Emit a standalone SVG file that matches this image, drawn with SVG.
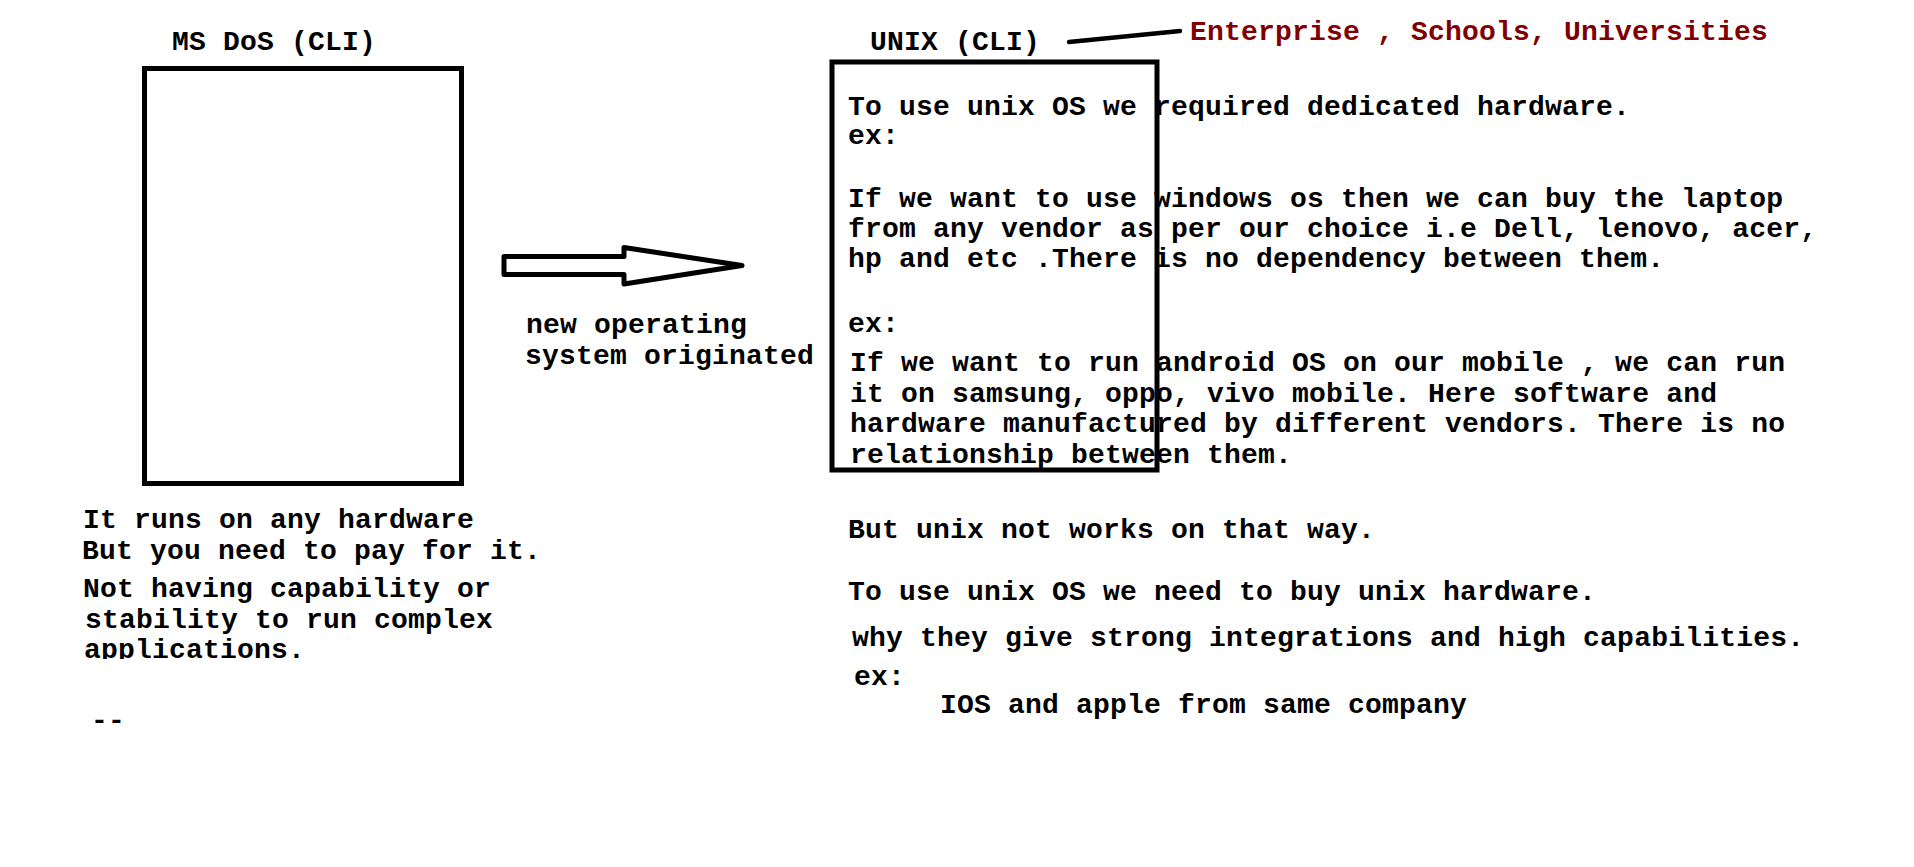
<svg xmlns="http://www.w3.org/2000/svg" width="1914" height="867" viewBox="0 0 1914 867">
<style>
  text { font-family: "Liberation Mono", "Courier New", monospace; font-weight: bold; font-size: 28px; letter-spacing: 0.2px; fill: #000; }
  .red { fill: #800000; }
  .box { fill: none; stroke: #000; stroke-width: 5; }
  .conn { fill: none; stroke: #000; stroke-width: 4.5; stroke-linecap: round; }
  .arrow { fill: #fff; stroke: #000; stroke-width: 5; stroke-linejoin: round; }
</style>
<defs>
  <clipPath id="leftclip"><rect x="0" y="490" width="700" height="169"/></clipPath>
</defs>
<rect width="1914" height="867" fill="#fff"/>

<g id="msdos">
  <text x="172" y="50">MS DoS (CLI)</text>
  <rect class="box" x="144.5" y="68.5" width="317" height="415"/>
  <g clip-path="url(#leftclip)">
    <text x="83" y="528">It runs on any hardware</text>
    <text x="82" y="559">But you need to pay for it.</text>
    <text x="83" y="597">Not having capability or</text>
    <text x="85" y="628">stability to run complex</text>
    <text x="84" y="658">applications.</text>
  </g>
  <text x="91" y="729">--</text>
</g>

<g id="unix">
  <text x="870" y="50">UNIX (CLI)</text>
  <rect class="box" x="832" y="62" width="325" height="408"/>
  <text x="848" y="115">To use unix OS we required dedicated hardware.</text>
  <text x="848" y="144">ex:</text>
  <text x="848" y="207">If we want to use windows os then we can buy the laptop</text>
  <text x="848" y="237">from any vendor as per our choice i.e Dell, lenovo, acer,</text>
  <text x="848" y="267">hp and etc .There is no dependency between them.</text>
  <text x="848" y="332">ex:</text>
  <text x="850" y="371">If we want to run android OS on our mobile , we can run</text>
  <text x="850" y="402">it on samsung, oppo, vivo mobile. Here software and</text>
  <text x="850" y="432">hardware manufactured by different vendors. There is no</text>
  <text x="850" y="463">relationship between them.</text>
  <text x="848" y="538">But unix not works on that way.</text>
  <text x="848" y="600">To use unix OS we need to buy unix hardware.</text>
  <text x="852" y="646">why they give strong integrations and high capabilities.</text>
  <text x="854" y="685">ex:</text>
  <text x="940" y="713">IOS and apple from same company</text>
</g>

<g id="usage">
  <text class="red" x="1190" y="40">Enterprise , Schools, Universities</text>
</g>

<g id="transition">
  <text x="526" y="333">new operating</text>
  <text x="525" y="364">system originated</text>
</g>

<g id="connectors">
  <path class="arrow" d="M504,256.5 L624,256.5 L624,247.5 L742,265.5 L624,284 L624,274.5 L504,274.5 Z"/>
  <line class="conn" x1="1069" y1="42" x2="1180" y2="31"/>
</g>
</svg>
